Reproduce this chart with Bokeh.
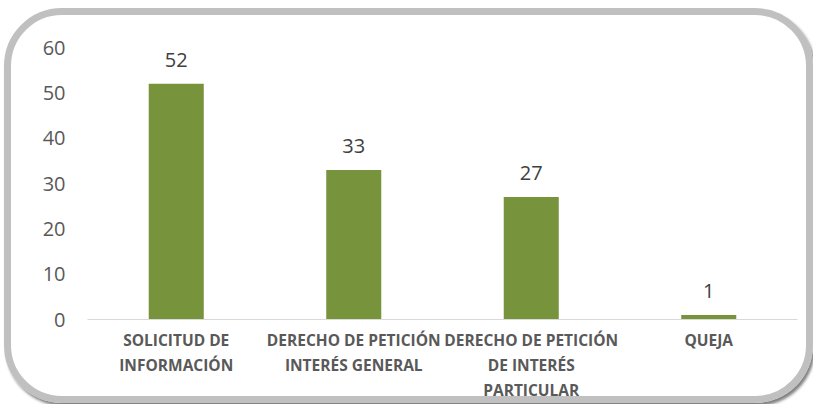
from bokeh.plotting import figure
from bokeh.models import ColumnDataSource, LabelSet, Range1d, InlineStyleSheet
from bokeh.core.properties import value
from bokeh.embed import file_html
from bokeh.resources import INLINE

categories = ["SOLICITUD DE\nINFORMACIÓN", "DERECHO DE PETICIÓN\nINTERÉS GENERAL",
              "DERECHO DE PETICIÓN\nDE INTERÉS\nPARTICULAR", "QUEJA"]
values = [52, 33, 27, 1]
tick_values = [0, 10, 20, 30, 40, 50, 60]

src = ColumnDataSource(dict(cat=categories, val=values, lbl=[str(v) for v in values]))

p = figure(x_range=categories, y_range=Range1d(0, 60), width=813, height=404,
           output_backend="svg", toolbar_location=None,
           min_border_left=87, min_border_right=16, min_border_top=47, min_border_bottom=85)
p.outline_line_color = None
p.background_fill_color = "white"
p.border_fill_color = "white"
p.grid.visible = False

p.vbar(x="cat", top="val", width=0.31, source=src, fill_color="#77933C", line_color=None)

labels = LabelSet(x="cat", y="val", text="lbl", source=src, text_align="center",
                  text_baseline="alphabetic", y_offset=17, text_font=value("Open Sans"),
                  text_font_size="20px", text_color="#404040")
p.add_layout(labels)

p.yaxis.ticker = tick_values
p.yaxis.axis_line_color = None
p.yaxis.major_tick_line_color = None
p.yaxis.minor_tick_line_color = None
p.yaxis.major_tick_out = 0
p.yaxis.minor_tick_out = 0
p.yaxis.major_label_text_font = "Open Sans"
p.yaxis.major_label_text_font_size = "20px"
p.yaxis.major_label_text_color = "#595959"
p.yaxis.major_label_standoff = 22

p.xaxis.axis_line_color = "#d9d9d9"
p.xaxis.axis_line_width = 1
p.xaxis.major_tick_line_color = None
p.xaxis.minor_tick_line_color = None
p.xaxis.major_tick_out = 0
p.xaxis.minor_tick_out = 0
p.xaxis.major_label_text_font = "Open Sans"
p.xaxis.major_label_text_font_style = "bold"
p.xaxis.major_label_text_font_size = "15.5px"
p.xaxis.major_label_text_line_height = 1.15
p.xaxis.major_label_text_color = "#595959"
p.xaxis.major_label_standoff = 9

frame_css = InlineStyleSheet(css="""
:host { position: relative; }
:host::after {
  content: "";
  position: absolute;
  left: 4px; top: 8px; right: 0px; bottom: 1px;
  border: 7px solid #c0c0c0;
  border-radius: 58px;
  box-shadow: 2px 3px 3px #808080;
  pointer-events: none;
}
""")
p.stylesheets = [frame_css]

open("out.html", "w").write(file_html(p, INLINE))
